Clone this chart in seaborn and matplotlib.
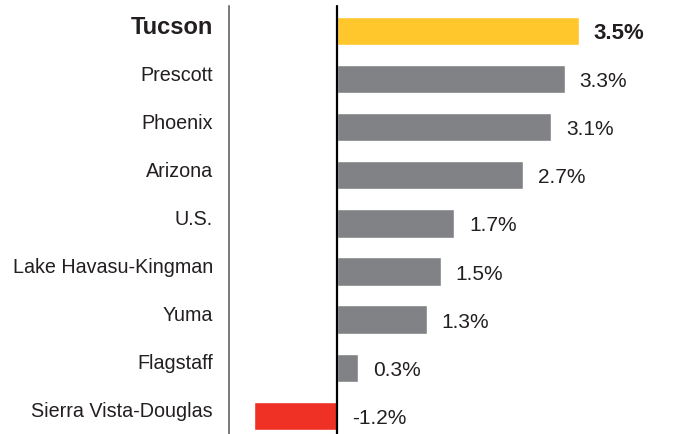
import matplotlib
matplotlib.use("Agg")
import matplotlib.pyplot as plt
import seaborn as sns
import pandas as pd

regions = ["Tucson", "Prescott", "Phoenix", "Arizona", "U.S.",
           "Lake Havasu-Kingman", "Yuma", "Flagstaff", "Sierra Vista-Douglas"]
values = [3.5, 3.3, 3.1, 2.7, 1.7, 1.5, 1.3, 0.3, -1.2]
value_labels = ["3.5%", "3.3%", "3.1%", "2.7%", "1.7%", "1.5%", "1.3%", "0.3%", "-1.2%"]
bar_colors = ["#FFC72C", "#818285", "#818285", "#818285", "#818285",
              "#818285", "#818285", "#818285", "#EE3124"]

sns.set_style("white")
plt.rcParams["font.family"] = ["Liberation Sans", "DejaVu Sans"]
TEXT = "#231F20"

df = pd.DataFrame({"region": regions, "value": values})

W, H = 677, 435
fig = plt.figure(figsize=(W / 100, H / 100), dpi=100)
ax = fig.add_axes([229 / W, 0, (W - 229) / W, 1])

sns.barplot(data=df, x="value", y="region", hue="region",
            palette=dict(zip(regions, bar_colors)), width=0.59,
            orient="h", legend=False, ax=ax, saturation=1)

px_per_unit = 69.0
ax.set_xlim(-108 / px_per_unit, (W - 337) / px_per_unit)
pitch = 48.1
ax.set_ylim((H - 32) / pitch, -32 / pitch)

for s in ["top", "right", "bottom"]:
    ax.spines[s].set_visible(False)
top_idx = (7 - 32) / pitch
ax.spines["left"].set_bounds(top_idx, (H - 32) / pitch)
ax.spines["left"].set_color("#555555")
ax.spines["left"].set_linewidth(1.1)
ax.axvline(0, ymin=0, ymax=1 - 7 / H, color="black", lw=1.6, zorder=5)

ax.set_xticks([])
ax.set_yticks([])
ax.set_xlabel("")
ax.set_ylabel("")

pt = 0.72  # points per pixel at 100 dpi
for i, (r, v, lab) in enumerate(zip(regions, values, value_labels)):
    bold = (i == 0)
    ax.annotate(r, xy=(0, i), xycoords=ax.get_yaxis_transform(),
                xytext=(-16 * pt, 5 * pt), textcoords="offset points",
                ha="right", va="center", color=TEXT,
                fontsize=17 if bold else 14.2,
                fontweight="bold" if bold else "normal")
    ax.annotate(lab, xy=(max(v, 0), i), xycoords="data",
                xytext=(15 * pt, -1.5 * pt), textcoords="offset points",
                ha="left", va="center", color=TEXT,
                fontsize=16 if bold else 15,
                fontweight="bold" if bold else "normal")

fig.savefig("out.png", dpi=100)
